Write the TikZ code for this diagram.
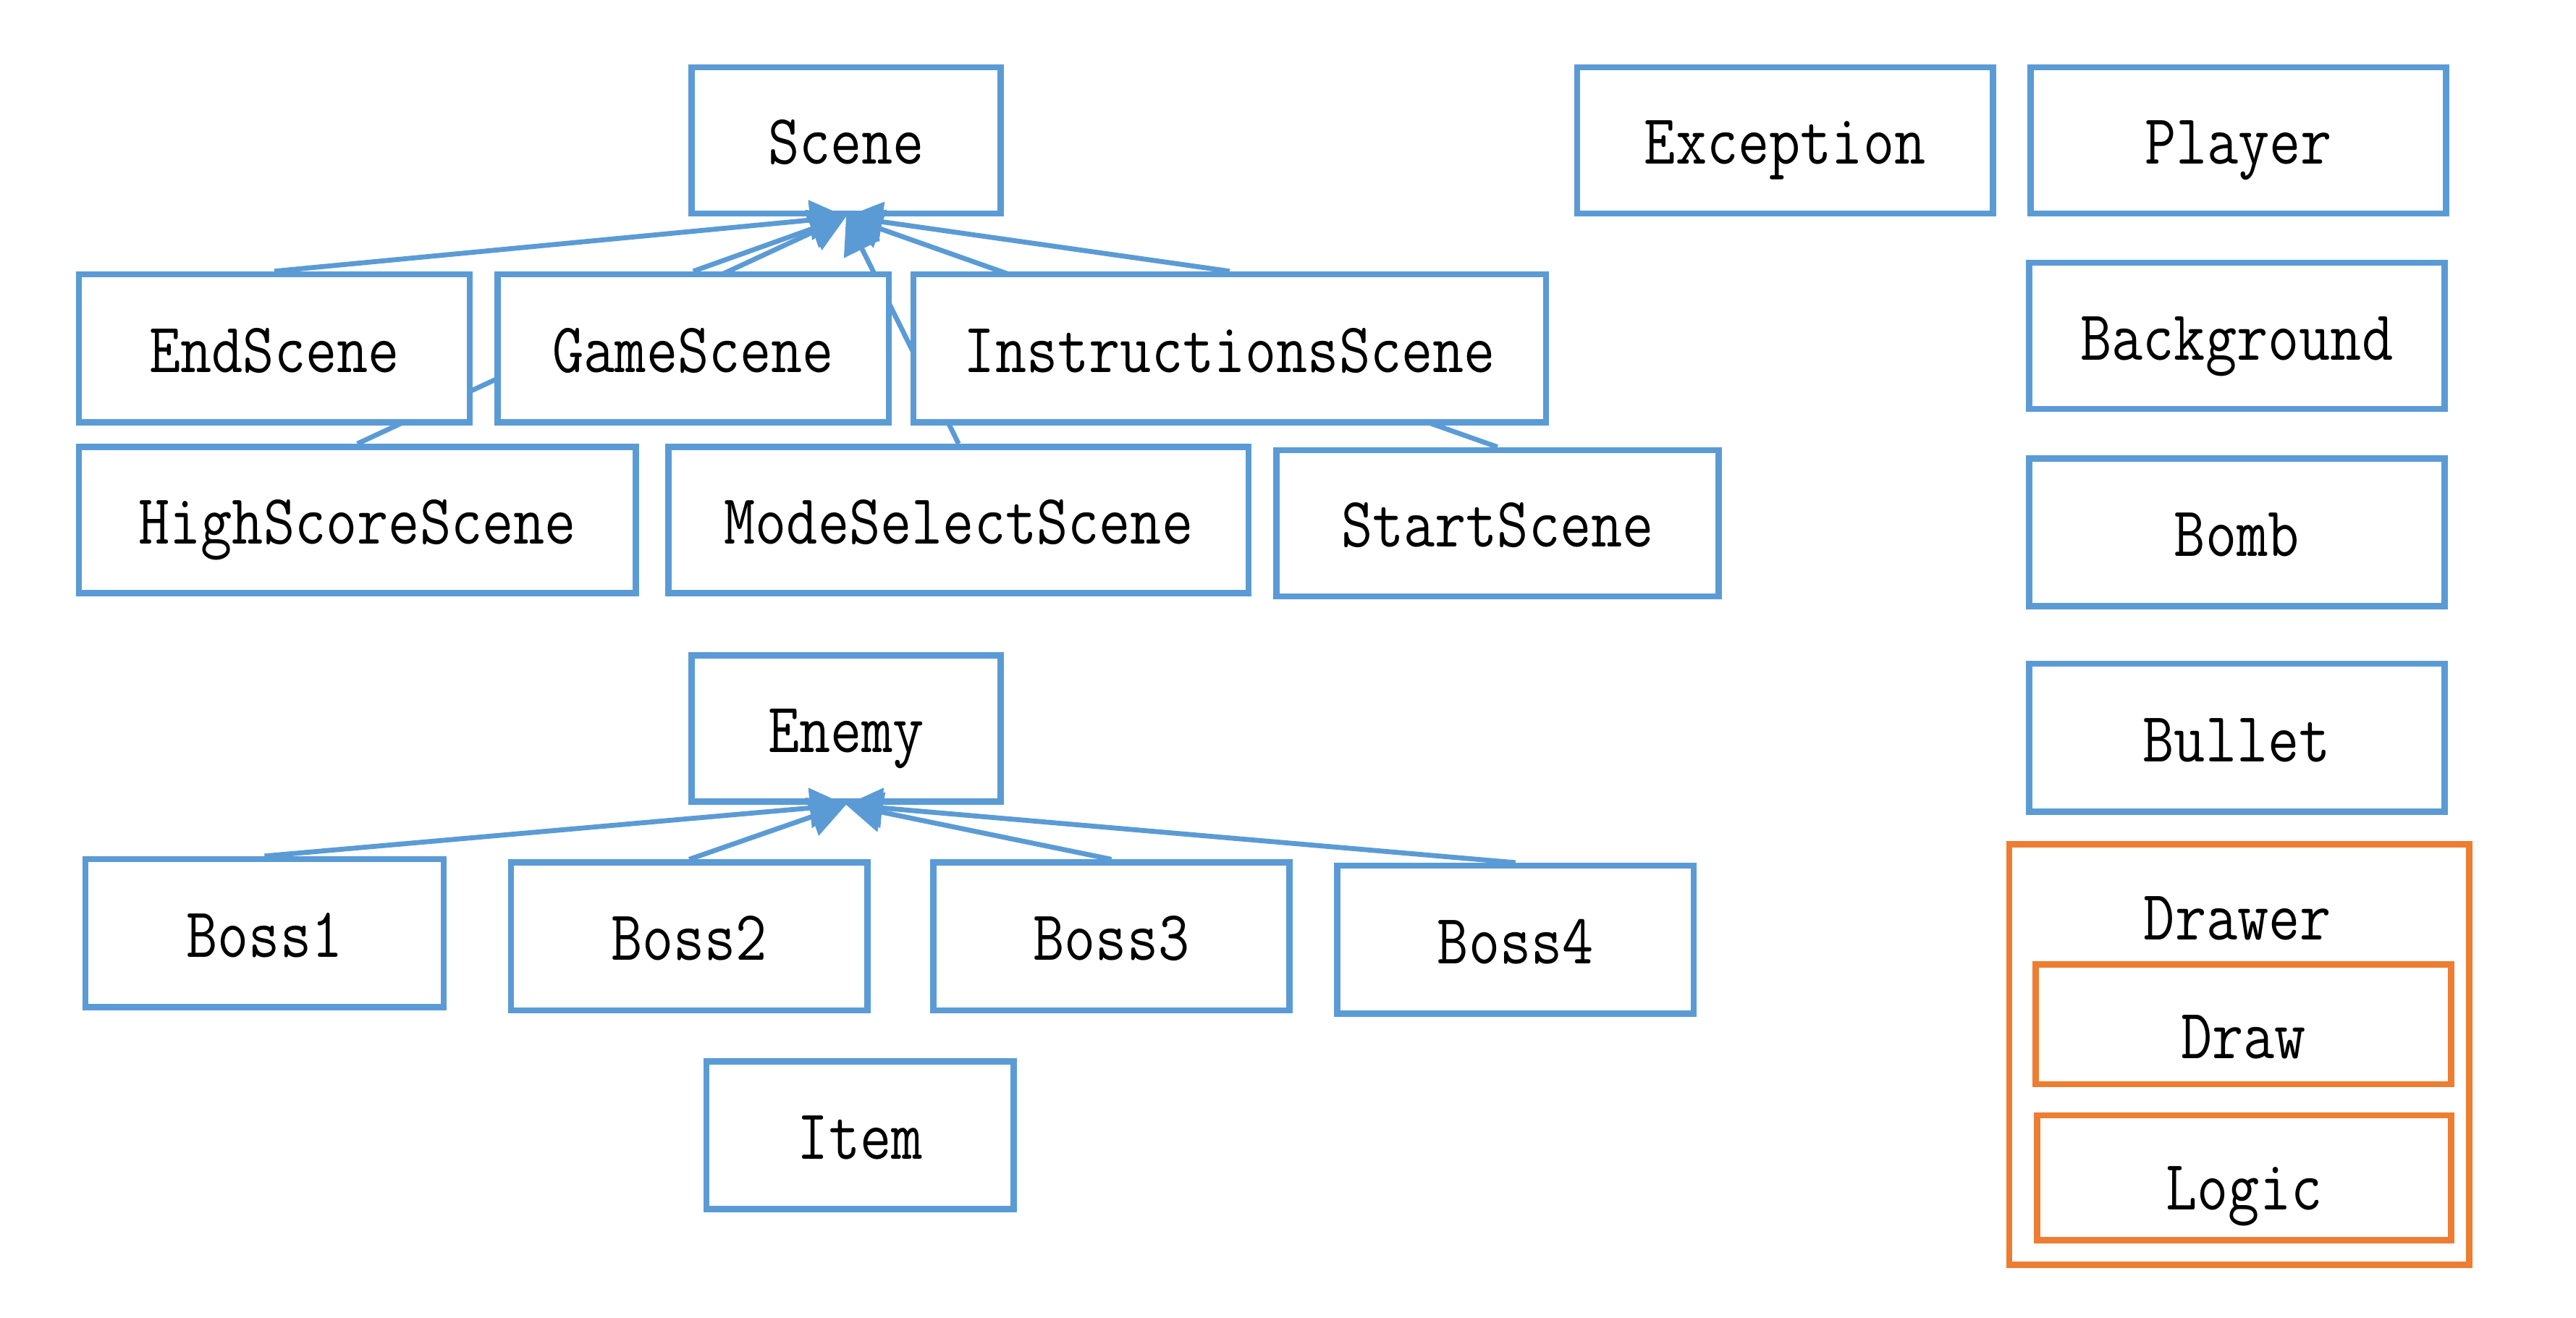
\documentclass[tikz,border=0pt]{standalone}
\usepackage{fontspec}
\newfontfamily\boxfont[FakeStretch=0.855]{Latin Modern Mono}
\usetikzlibrary{arrows.meta}
\pgfdeclarelayer{background}
\pgfsetlayers{background,main}
\definecolor{boxblue}{HTML}{5B9BD5}
\definecolor{boxorange}{HTML}{ED7D31}
\tikzset{
  box/.style={draw=boxblue, line width=1.9pt, fill=white, rectangle, inner sep=0pt,
    font=\boxfont\fontsize{21.6}{24}\selectfont, text=black, text height=14.5pt, text depth=0pt},
  obox/.style={box, draw=boxorange},
  lbl/.style={inner sep=0pt, font=\boxfont\fontsize{21.6}{24}\selectfont, text=black, text height=13.2pt, text depth=0pt},
  inherit/.style={draw=boxblue, line width=1.5pt, -{Triangle[length=11pt, width=12pt]}},
}
\begin{document}
\begin{tikzpicture}[x=0.5pt, y=-0.5pt]
\useasboundingbox (0,0) rectangle (1568,802);
% Scene hierarchy
\node[box, fill=none, minimum width=94pt, minimum height=44.5pt] (scene) at (515,85.5) {Scene};
\node[box, minimum width=126.5pt, minimum height=44.5pt] (exception) at (1086.5,85.5) {Exception};
\node[box, minimum width=126.5pt, minimum height=44.5pt] (player) at (1362.5,85.5) {Player};
\node[box, minimum width=119pt, minimum height=45pt] (endscene) at (167,212) {EndScene};
\node[box, minimum width=119pt, minimum height=45pt] (gamescene) at (422,212) {GameScene};
\node[box, minimum width=192.5pt, minimum height=45pt] (instr) at (748.5,212) {InstructionsScene};
\node[box, minimum width=169.5pt, minimum height=44.5pt] (highscore) at (217.5,316.5) {HighScoreScene};
\node[box, minimum width=176.5pt, minimum height=44.5pt] (modeselect) at (583.5,316.5) {ModeSelectScene};
\node[box, minimum width=134.5pt, minimum height=44.5pt] (startscene) at (911.5,318.5) {StartScene};
% right column
\node[box, minimum width=126.5pt, minimum height=44.5pt] (background) at (1361.5,204.5) {Background};
\node[box, minimum width=126.5pt, minimum height=45pt] (bomb) at (1361.5,324) {Bomb};
\node[box, minimum width=126.5pt, minimum height=45pt] (bullet) at (1361.5,449) {Bullet};
% Enemy hierarchy
\node[box, fill=none, minimum width=94pt, minimum height=44.5pt] (enemy) at (515,443.5) {Enemy};
\node[box, minimum width=109pt, minimum height=45pt] (boss1) at (161,568) {Boss1};
\node[box, minimum width=108.5pt, minimum height=45pt] (boss2) at (419.5,570) {Boss2};
\node[box, minimum width=108.5pt, minimum height=45pt] (boss3) at (676.5,570) {Boss3};
\node[box, minimum width=108.5pt, minimum height=45pt] (boss4) at (922.5,572) {Boss4};
\node[box, minimum width=93.5pt, minimum height=45pt] (item) at (523.5,691) {Item};
% Drawer
\node[obox, minimum width=140pt, minimum height=128pt] (drawer) at (1363,642) {};
\node[lbl] (drawerlbl) at (1362,559) {Drawer};
\node[obox, minimum width=126.5pt, minimum height=36.5pt, text height=21pt] (draw) at (1365.5,623.5) {Draw};
\node[obox, minimum width=126pt, minimum height=38pt, text height=19.4pt] (logic) at (1366,717) {Logic};
% connectors
\begin{pgfonlayer}{background}
\draw[inherit] (endscene.north) -- (scene.south);
\draw[inherit] (gamescene.north) -- (scene.south);
\draw[inherit] (highscore.north) -- (scene.south);
\draw[inherit] (modeselect.north) -- (scene.south);
\draw[inherit] (instr.north) -- (scene.south);
\draw[inherit] (startscene.north) -- (scene.south);
\draw[inherit] (boss1.north) -- (enemy.south);
\draw[inherit] (boss2.north) -- (enemy.south);
\draw[inherit] (boss3.north) -- (enemy.south);
\draw[inherit] (boss4.north) -- (enemy.south);
\end{pgfonlayer}
\end{tikzpicture}
\end{document}
